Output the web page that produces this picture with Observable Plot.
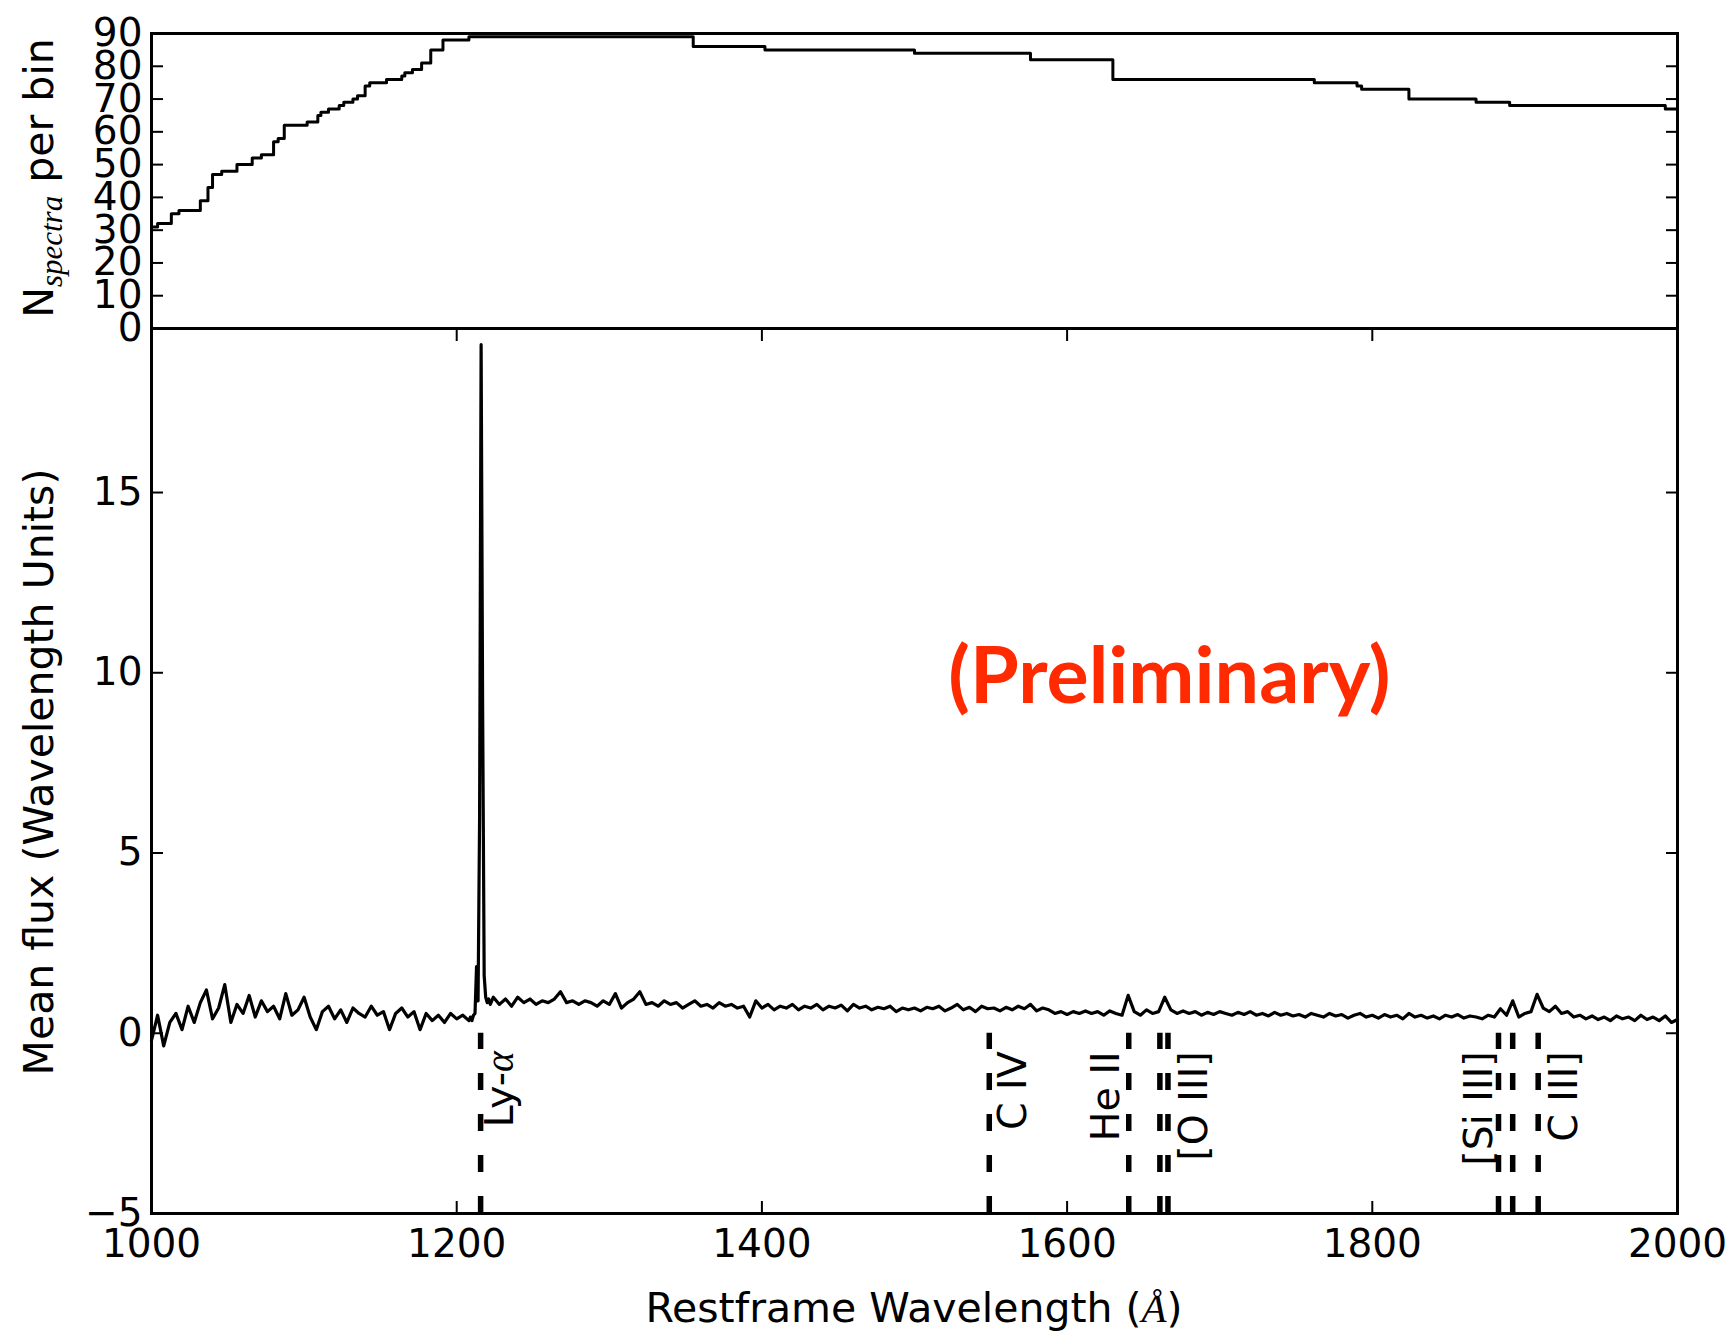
<!DOCTYPE html>
<html><head><meta charset="utf-8">
<script src="https://cdn.jsdelivr.net/npm/d3@7"></script>
<script src="https://cdn.jsdelivr.net/npm/@observablehq/plot@0.6"></script>
<style>
body{margin:0;background:#fff;}
#chart svg{display:block;}
</style></head><body>
<div id="chart"></div>
<script>
// ---------------- data ----------------
// mean flux spectrum on a 4 Å grid starting at 1000 Å
const specStart = 1000, specStep = 4;
const specFlux = [
  -0.2,0.5,-0.35,0.3,0.55,0.1,0.75,0.3,0.85,1.2,
  0.4,0.7,1.35,0.3,0.8,0.55,1.05,0.45,0.9,0.6,
  0.75,0.4,1.1,0.5,0.65,1.0,0.45,0.1,0.6,0.75,
  0.4,0.65,0.3,0.7,0.55,0.45,0.75,0.5,0.6,0.1,
  0.55,0.7,0.45,0.6,0.1,0.55,0.35,0.5,0.3,0.55,
  0.4,0.5,0.35,0.55,19.1,0.85,1.0,0.8,0.95,0.75,
  1.0,0.85,0.95,0.8,0.9,0.85,0.95,1.15,0.85,0.9,
  0.8,0.9,0.85,0.75,0.9,0.8,1.1,0.7,0.85,0.95,
  1.15,0.8,0.85,0.75,0.9,0.8,0.85,0.7,0.8,0.9,
  0.75,0.8,0.7,0.85,0.75,0.8,0.7,0.75,0.45,0.9,
  0.7,0.8,0.65,0.75,0.7,0.8,0.65,0.75,0.7,0.8,
  0.65,0.75,0.7,0.78,0.62,0.8,0.7,0.75,0.65,0.72,
  0.68,0.75,0.6,0.7,0.65,0.7,0.62,0.72,0.68,0.75,
  0.62,0.7,0.8,0.65,0.72,0.6,0.75,0.68,0.7,0.62,
  0.72,0.65,0.75,0.68,0.8,0.62,0.7,0.65,0.55,0.6,
  0.52,0.6,0.55,0.62,0.55,0.6,0.5,0.62,0.55,0.5,
  1.05,0.6,0.5,0.65,0.55,0.6,1.0,0.65,0.55,0.62,
  0.55,0.6,0.5,0.58,0.52,0.6,0.55,0.5,0.58,0.52,
  0.6,0.5,0.55,0.48,0.58,0.5,0.55,0.48,0.52,0.45,
  0.55,0.5,0.45,0.55,0.48,0.52,0.42,0.5,0.55,0.45,
  0.5,0.42,0.52,0.45,0.5,0.4,0.55,0.45,0.5,0.42,
  0.48,0.4,0.5,0.45,0.52,0.42,0.48,0.45,0.4,0.5,
  0.45,0.68,0.5,0.9,0.45,0.55,0.6,1.08,0.7,0.6,
  0.75,0.55,0.6,0.45,0.5,0.4,0.48,0.38,0.45,0.35,
  0.48,0.4,0.45,0.35,0.5,0.38,0.45,0.35,0.48,0.3,
  0.38
];
// finer sampling around Lyman-alpha
const lyaWave = [1209,1210,1211,1212,1213,1214,1215,1216,1217,1218,1219,1220,1221,1222,1223];
const lyaFlux = [0.45,0.35,0.5,0.55,1.85,0.9,6.0,19.1,9.0,1.6,1.0,0.85,0.95,0.8,0.9];

// number of spectra per bin (step changes)
const countWave  = [1000,1004,1013,1018,1032,1037,1040,1046,1056,1066,1072,1080,1083,1087,1102,1109,1111,1116,1123,1126,1132,1135,1140,1143,1154,1164,1166,1171,1177,1183,1191,1208,1355,1402,1500,1576,1630,1762,1790,1793,1824,1868,1890,1992,2000];
const countValue = [31,32,35,36,39,43,47,48,50,52,53,57,58,62,63,65,66,67,68,69,70,71,74,75,76,77,78,79,81,85,88,89,86,85,84,82,76,75,74,73,70,69,68,67,67];

// emission-line markers
const lineWave  = [1215.67,1549.0,1640.4,1660.8,1666.1,1882.7,1892.0,1908.7];
const labelText = ["Ly-α","C IV","He II","[O III]","[Si III]","C III]"];
const labelWave = [1215.67,1549.0,1640.4,1666.1,1882.7,1908.7];

// ticks
const countTicks = [0,10,20,30,40,50,60,70,80,90];
const fluxTicks  = [-5,0,5,10,15];
const waveTicks  = [1000,1200,1400,1600,1800,2000];
const stampText  = "(Preliminary)";

// ---------------- build ----------------
const spec = [];
specFlux.forEach((f, i) => {
  const w = specStart + specStep * i;
  if (w < lyaWave[0] || w > lyaWave[lyaWave.length - 1]) spec.push({w, f});
});
lyaWave.forEach((w, i) => spec.push({w, f: lyaFlux[i]}));
spec.sort((a, b) => a.w - b.w);

const counts = countWave.map((w, i) => ({w, n: countValue[i]}));
const lines = lineWave.map(w => ({w}));
const labels = labelText.map((t, i) => ({t, w: labelWave[i]}));
const labelDx = {"Ly-α": 20, "C IV": 24, "He II": -22, "[O III]": 26, "[Si III]": -19, "C III]": 26};

const FONT = "DejaVu Sans";
const fmt = d3.format("d");
const W = 1736, ML = 151, MR = 59;

const topPlot = Plot.plot({
  width: W, height: 328, marginTop: 33, marginBottom: 0, marginLeft: ML, marginRight: MR,
  style: {fontFamily: FONT, fontSize: "39px", color: "black", background: "transparent", overflow: "visible"},
  x: {domain: [1000, 2000], axis: null},
  y: {domain: [0, 90], axis: null},
  marks: [
    Plot.line(counts, {x: "w", y: "n", curve: "step-after", stroke: "black", strokeWidth: 3}),
    Plot.axisY(countTicks, {anchor: "left", tickSize: -12, tickPadding: 21, tickFormat: fmt, strokeWidth: 2, fontSize: 39, label: null}),
    Plot.axisY(countTicks, {anchor: "right", tickSize: -12, tickFormat: () => "", fill: "none", strokeWidth: 2, label: null}),
    Plot.frame({stroke: "black", strokeWidth: 3})
  ]
});

const labelMarks = labels.map(l => Plot.text([l], {
  x: "w", y: () => -0.5, text: "t", rotate: -90, textAnchor: "end",
  dx: labelDx[l.t], fontSize: 39.5, fill: "black"
}));

const botPlot = Plot.plot({
  width: W, height: 1004, marginTop: 0, marginBottom: 119, marginLeft: ML, marginRight: MR,
  style: {fontFamily: FONT, fontSize: "39px", color: "black", background: "transparent", overflow: "visible"},
  x: {domain: [1000, 2000]},
  y: {domain: [-5, 19.55]},
  marks: [
    Plot.ruleX(lines, {x: "w", y1: -5, y2: 0, stroke: "black", strokeWidth: 5.5, strokeDasharray: "17,24"}),
    Plot.line(spec, {x: "w", y: "f", stroke: "black", strokeWidth: 3.2, strokeLinejoin: "round"}),
    ...labelMarks,
    Plot.text([stampText], {x: 1667, y: 9.86, text: d => d, fill: "#ff2a00", fontFamily: "Lato", fontWeight: "bold", fontSize: 79}),
    Plot.axisX(waveTicks, {anchor: "bottom", tickSize: -12, tickPadding: 28, tickFormat: fmt, strokeWidth: 2, fontSize: 39, label: null}),
    Plot.axisX(waveTicks, {anchor: "top", tickSize: -12, tickFormat: () => "", fill: "none", strokeWidth: 2, label: null}),
    Plot.axisY(fluxTicks, {anchor: "left", tickSize: -12, tickPadding: 21, tickFormat: fmt, strokeWidth: 2, fontSize: 39, label: null}),
    Plot.axisY(fluxTicks, {anchor: "right", tickSize: -12, tickFormat: () => "", fill: "none", strokeWidth: 2, label: null}),
    Plot.frame({stroke: "black", strokeWidth: 3})
  ]
});

const chart = document.getElementById("chart");
chart.appendChild(topPlot);
chart.appendChild(botPlot);

// axis titles
const tsel = d3.select(topPlot);
const yt = tsel.append("text")
  .attr("transform", "translate(53,178) rotate(-90)")
  .attr("text-anchor", "middle").attr("font-family", FONT).attr("font-size", 41).attr("fill", "black");
yt.append("tspan").text("N");
yt.append("tspan").attr("font-family", "Liberation Serif").attr("font-style", "italic").attr("font-size", 31).attr("dy", 9).text("spectra");
yt.append("tspan").attr("dy", -9).text(" per bin");

const bsel = d3.select(botPlot);
bsel.append("text")
  .attr("transform", "translate(53,444) rotate(-90)")
  .attr("text-anchor", "middle").attr("font-family", FONT).attr("font-size", 41).attr("fill", "black")
  .text("Mean flux (Wavelength Units)");
const xt = bsel.append("text")
  .attr("x", 914).attr("y", 994)
  .attr("text-anchor", "middle").attr("font-family", FONT).attr("font-size", 41).attr("fill", "black");
xt.append("tspan").text("Restframe Wavelength (");
xt.append("tspan").attr("font-family", "Liberation Serif").attr("font-style", "italic").text("Å");
xt.append("tspan").text(")");

// italic alpha in the Ly-α label
bsel.selectAll("text").filter(function() { return this.textContent === "Ly-α" && !this.querySelector("tspan"); })
  .each(function() {
    const t = d3.select(this);
    t.text("Ly-");
    t.append("tspan").attr("font-family", "Liberation Serif").attr("font-style", "italic").text("α");
  });
</script>
</body></html>
